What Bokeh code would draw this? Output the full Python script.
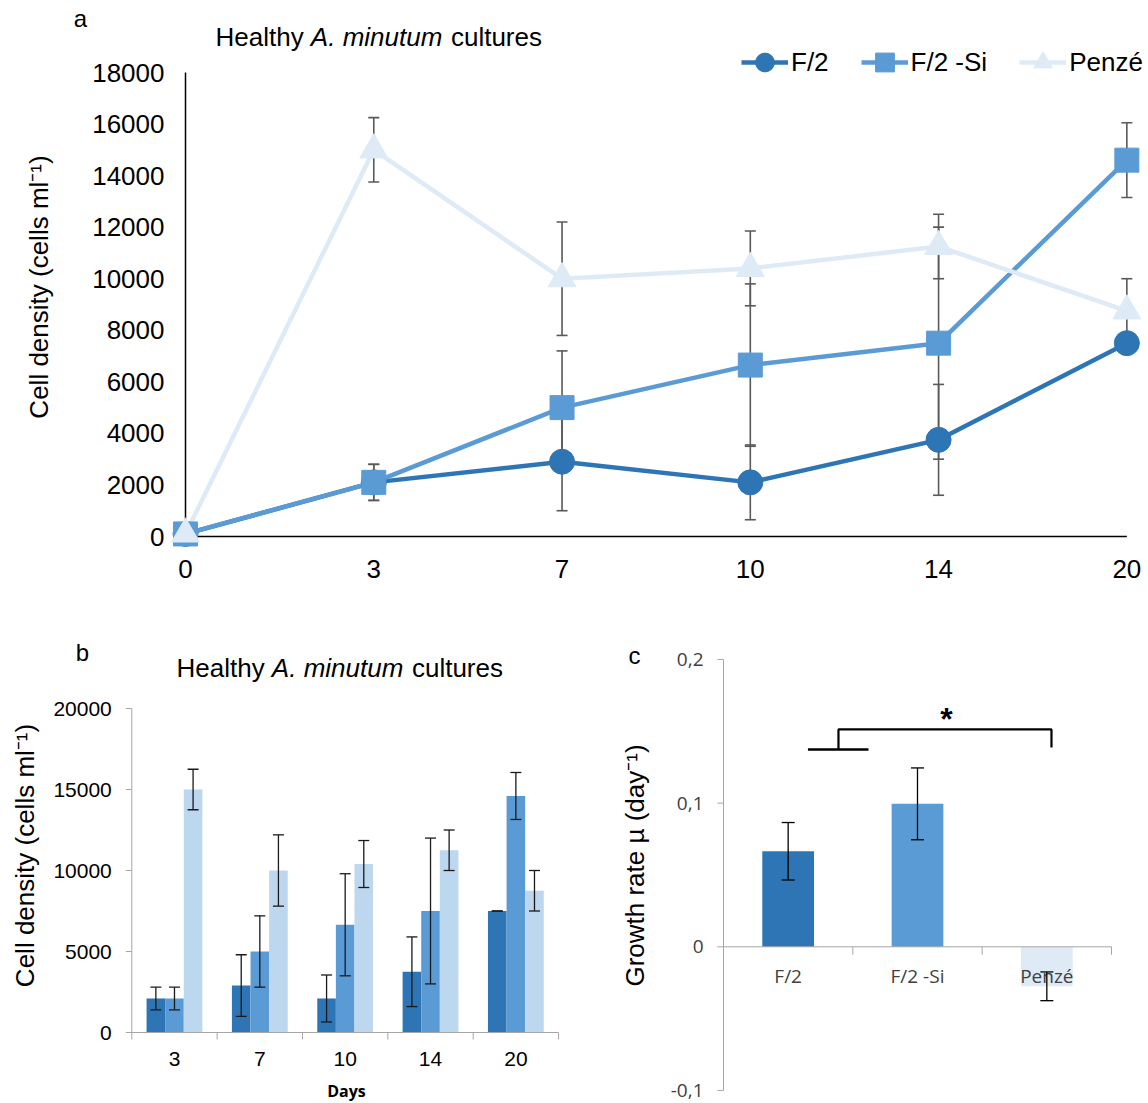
import math
from bokeh.plotting import figure
from bokeh.models import Range1d, Label, Legend, LegendItem
from bokeh.layouts import column, row
from bokeh.embed import file_html
from bokeh.resources import INLINE
from bokeh.core.properties import value

# ---------------- data ----------------
days = [0, 3, 7, 10, 14, 20]
f2_mean = [100, 2100, 2900, 2100, 3750, 7500]
f2_sd = [0, 700, 1900, 1450, 2150, 0]
f2si_mean = [100, 2100, 5000, 6650, 7500, 14600]
f2si_sd = [0, 700, 2200, 3150, 4500, 1450]
penze_mean = [100, 15000, 10000, 10400, 11250, 8750]
penze_sd = [0, 1250, 2200, 1450, 1250, 1250]
series_names = ["F/2", "F/2 -Si", "Penzé"]

treatments = ["F/2", "F/2 -Si", "Penzé"]
growth_rate = [0.0665, 0.0995, -0.0275]
growth_sd = [0.02, 0.025, 0.01]

y_ticks_a = [0, 2000, 4000, 6000, 8000, 10000, 12000, 14000, 16000, 18000]
y_ticks_b = [0, 5000, 10000, 15000, 20000]
y_ticks_c = [-0.1, 0, 0.1, 0.2]
y_labels_c = ["-0,1", "0", "0,1", "0,2"]

# ---------------- style ----------------
FONT = "Liberation Sans"
CAL = "Open Sans"
C_DARK, C_MID, C_LIGHT_A, C_LIGHT_B = "#2E75B6", "#5B9BD5", "#DEEBF7", "#BDD7EE"
AXIS_GRAY = "#A6A6A6"
YLABEL = "Cell density (cells ml\u207B\u00B9)"


def x_rng(width, anchor_px, anchor_val, ppu):
    return Range1d(anchor_val - anchor_px / ppu, anchor_val + (width - anchor_px) / ppu)


def y_rng(height, anchor_px, anchor_val, ppu):
    return Range1d(anchor_val - (height - anchor_px) / ppu, anchor_val + anchor_px / ppu)


def base_fig(width, height, xr, yr):
    p = figure(width=width, height=height, x_range=xr, y_range=yr, title=None,
               x_axis_location=None, y_axis_location=None, min_border=0,
               output_backend="svg", toolbar_location=None)
    p.grid.visible = False
    p.outline_line_color = None
    p.background_fill_color = "white"
    p.border_fill_color = "white"
    return p


def add_label(p, x, y, text, size, style="normal", align="left", angle=0.0,
              font=FONT, color="black"):
    p.add_layout(Label(x=x, y=y, x_units="screen", y_units="screen", text=text,
                       text_font=font, text_font_size=f"{size}px",
                       text_font_style=style, text_align=align,
                       text_baseline="middle", angle=angle, text_color=color))


def add_title(p, x0, y, size):
    add_label(p, x0, y, "Healthy", size)
    add_label(p, x0 + 3.668 * size, y, "A. minutum", size, style="italic")
    add_label(p, x0 + (3.668 + 5.057 + 0.33) * size, y, "cultures", size)


def errorbars(p, xs, means, sds, color, cap, width, skip_zero=True):
    xx, lo, hi = [], [], []
    for x, m, s in zip(xs, means, sds):
        if skip_zero and s == 0:
            continue
        xx.append(x)
        lo.append(m - s)
        hi.append(m + s)
    p.segment(x0=xx, y0=lo, x1=xx, y1=hi, line_color=color, line_width=width)
    p.scatter(x=xx, y=hi, marker="dash", size=cap, line_color=color, line_width=width)
    p.scatter(x=xx, y=lo, marker="dash", size=cap, line_color=color, line_width=width)


def text(p, xs, ys, labels, size, align, font=FONT, color="black"):
    p.text(x=xs, y=ys, text=labels, text_align=align, text_baseline="middle",
           text_font=value(font), text_font_size=f"{size}px", text_color=color)


# ================= panel a =================
WA, HA = 1148, 612
ppx_a, ppy_a = 188.27, 464 / 18000
pa = base_fig(WA, HA, x_rng(WA, 185, 0, ppx_a), y_rng(HA, 536, 0, ppy_a))
xa = list(range(len(days)))
means_all = [f2_mean, f2si_mean, penze_mean]
sds_all = [f2_sd, f2si_sd, penze_sd]
colors_a = [C_DARK, C_MID, C_LIGHT_A]
markers = ["circle", "square", "triangle"]
msizes = [25, 24, 28]

# axes lines
pa.segment(x0=[xa[0], xa[0]], y0=[0, 0], x1=[xa[0], xa[-1]], y1=[y_ticks_a[-1], 0],
           line_color="black", line_width=1.5)
text(pa, [xa[0] - 21 / ppx_a] * len(y_ticks_a), y_ticks_a, [str(t) for t in y_ticks_a], 26, "right")
text(pa, xa, [-(568 - 536) / ppy_a] * len(xa), [str(d) for d in days], 26, "center")

for m, s in zip(means_all, sds_all):
    errorbars(pa, xa, m, s, "#595959", 11, 1.6)
line_rs = [pa.line(x=xa, y=m, line_color=c, line_width=4.5)
           for m, c in zip(means_all, colors_a)]
mark_rs = [pa.scatter(x=xa, y=m, marker=mk, size=ms, fill_color=c, line_color=c)
           for m, c, mk, ms in zip(means_all, colors_a, markers, msizes)]

legend = Legend(items=[LegendItem(label=n, renderers=[lr, mr])
                       for n, lr, mr in zip(series_names, line_rs, mark_rs)],
                orientation="horizontal", location=(741, HA - 87),
                glyph_width=47, glyph_height=50, label_height=50,
                label_standoff=3, spacing=32, padding=0, margin=0,
                border_line_color=None, background_fill_alpha=0,
                label_text_font=FONT, label_text_font_size="26px",
                label_text_color="black")
pa.add_layout(legend)

add_label(pa, 80, HA - 18, "a", 24, align="center")
add_title(pa, 215, HA - 36, 26)
add_label(pa, 38, HA - 286.5, YLABEL, 26, align="center", angle=math.pi / 2)

# ================= panel b =================
WB, HB = 600, 491
ppx_b, ppy_b = 85.35, 324 / 20000
pb = base_fig(WB, HB, x_rng(WB, 131.3, 0, ppx_b), y_rng(HB, 420, 0, ppy_b))
days_b = days[1:]
nb = len(days_b)
xb = [i + 0.5 for i in range(nb)]
colors_b = [C_DARK, C_MID, C_LIGHT_B]
bw = 0.218
for k, (m, c) in enumerate(zip(means_all, colors_b)):
    xs = [x + (k - 1) * bw for x in xb]
    pb.vbar(x=xs, top=m[1:], bottom=0, width=bw, fill_color=c, line_color=None)
for k, (m, s) in enumerate(zip(means_all, sds_all)):
    xs = [x + (k - 1) * bw for x in xb]
    errorbars(pb, xs, m[1:], s[1:], "#1a1a1a", 11, 1.3, skip_zero=False)

# axes
pb.segment(x0=[0, 0], y0=[0, 0], x1=[0, nb], y1=[y_ticks_b[-1], 0],
           line_color=AXIS_GRAY, line_width=1)
pb.segment(x0=[0] * len(y_ticks_b), y0=y_ticks_b, x1=[-6 / ppx_b] * len(y_ticks_b),
           y1=y_ticks_b, line_color=AXIS_GRAY, line_width=1)
bounds_b = list(range(nb + 1))
pb.segment(x0=bounds_b, y0=[0] * len(bounds_b), x1=bounds_b,
           y1=[-7 / ppy_b] * len(bounds_b), line_color=AXIS_GRAY, line_width=1)
text(pb, [-20 / ppx_b] * len(y_ticks_b), y_ticks_b, [str(t) for t in y_ticks_b], 21, "right")
text(pb, xb, [-26 / ppy_b] * nb, [str(d) for d in days_b], 21, "center")

add_label(pb, 82, HB - 40, "b", 24, align="center")
add_title(pb, 176, HB - 55, 26)
add_label(pb, 24, HB - 243, YLABEL, 26, align="center", angle=math.pi / 2)
add_label(pb, 346, 13, "Days", 16, style="bold", align="center", font=CAL)

# ================= panel c =================
WC, HC = 548, 491
ppx_c, ppy_c = 129.33, 1436.7
pc = base_fig(WC, HC, x_rng(WC, 123, 0, ppx_c), y_rng(HC, 334.3, 0, ppy_c))
nc = len(treatments)
xc = [i + 0.5 for i in range(nc)]
pc.vbar(x=xc, top=growth_rate, bottom=0, width=0.4,
        fill_color=[C_DARK, C_MID, C_LIGHT_A], line_color=None)

# axes
pc.segment(x0=[0, 0], y0=[y_ticks_c[0], 0], x1=[0, nc], y1=[y_ticks_c[-1], 0],
           line_color=AXIS_GRAY, line_width=1)
pc.segment(x0=[0] * len(y_ticks_c), y0=y_ticks_c, x1=[-6 / ppx_c] * len(y_ticks_c),
           y1=y_ticks_c, line_color=AXIS_GRAY, line_width=1)
bounds_c = list(range(1, nc + 1))
pc.segment(x0=bounds_c, y0=[0] * nc, x1=bounds_c, y1=[-8 / ppy_c] * nc,
           line_color=AXIS_GRAY, line_width=1)
text(pc, [-20 / ppx_c] * len(y_ticks_c), y_ticks_c, y_labels_c, 19, "right",
     font=CAL, color="#404040")
text(pc, xc, [-29 / ppy_c] * nc, treatments, 19, "center", font=CAL, color="#404040")

errorbars(pc, xc, growth_rate, growth_sd, "black", 13, 1.3)

# significance bracket: (F/2, F/2 -Si) vs Penzé
pc.line(x=[0.653, 1.121], y=[0.1373, 0.1373], line_color="black", line_width=2.5)
pc.line(x=[0.889, 0.889, 2.536, 2.536], y=[0.1373, 0.1513, 0.1513, 0.1387],
        line_color="black", line_width=2.2)

add_label(pc, 34, HC - 43, "c", 24, align="center")
add_label(pc, 34, HC - 253, "Growth rate \u00B5 (day\u207B\u00B9)", 26, align="center",
          angle=math.pi / 2)
add_label(pc, 346, HC - 106, "*", 32, style="bold", align="center")

layout = column(pa, row(pb, pc))
open("out.html", "w").write(file_html(layout, INLINE))
